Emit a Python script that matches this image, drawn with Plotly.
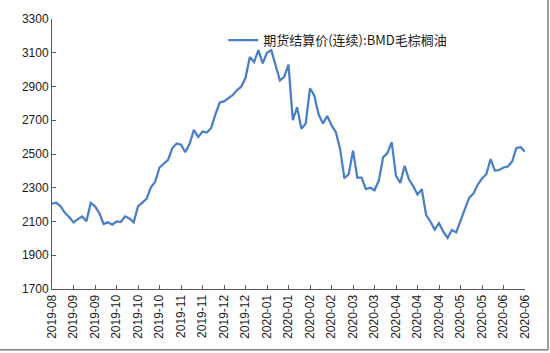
import plotly.graph_objects as go

series_name = "期货结算价(连续):BMD毛棕榈油"

tick_labels = [
    "2019-08", "2019-09", "2019-09", "2019-10", "2019-10", "2019-10",
    "2019-11", "2019-11", "2019-12", "2019-12", "2020-01", "2020-01",
    "2020-02", "2020-02", "2020-03", "2020-03", "2020-04", "2020-04",
    "2020-04", "2020-05", "2020-05", "2020-06", "2020-06",
]

points_per_label = 5

prices = [
    2206, 2211, 2190, 2151, 2127, 2095, 2114, 2130, 2102, 2210,
    2190, 2150, 2085, 2095, 2081, 2100, 2097, 2130, 2118, 2095,
    2190, 2211, 2235, 2302, 2335, 2420, 2445, 2466, 2535, 2562,
    2555, 2510, 2560, 2643, 2600, 2633, 2627, 2653, 2735, 2805,
    2812, 2832, 2848, 2878, 2899, 2950, 3075, 3045, 3115, 3037,
    3100, 3115, 3027, 2935, 2957, 3030, 2700, 2777, 2650, 2680,
    2890, 2845, 2735, 2680, 2725, 2670, 2630, 2530, 2356, 2380,
    2520, 2360, 2360, 2292, 2300, 2285, 2342, 2480, 2505, 2570,
    2370, 2329, 2430, 2350, 2310, 2260, 2291, 2140, 2100, 2052,
    2090, 2040, 2003, 2050, 2035, 2100, 2175, 2240, 2265, 2317,
    2355, 2380, 2470, 2402, 2405, 2420, 2426, 2455, 2535, 2540,
    2514,
]

y_min, y_max, y_step = 1700, 3300, 200

x_idx = list(range(len(prices)))
tick_pos = [i * points_per_label for i in range(len(tick_labels))]

axis_color = "#595959"
tick_font = dict(family="Liberation Sans, Arial, sans-serif", size=12, color="#1a1a1a")

fig = go.Figure()
fig.add_trace(go.Scatter(
    x=x_idx, y=prices, mode="lines", name=series_name,
    line=dict(color="#4A7EC6", width=2.25),
    showlegend=True,
))

fig.update_layout(
    width=550, height=353,
    margin=dict(l=52, r=25, t=19, b=64, autoexpand=False),
    paper_bgcolor="white", plot_bgcolor="white",
    showlegend=True,
    legend=dict(
        x=0.362, y=0.922, xanchor="left", yanchor="middle",
        orientation="h", bgcolor="rgba(0,0,0,0)",
        font=dict(family="Noto Sans CJK SC, sans-serif", size=13, color="#1a1a1a"),
        itemwidth=30,
    ),
    xaxis=dict(
        range=[0, len(prices) - 1], autorange=False,
        tickmode="array", tickvals=tick_pos, ticktext=tick_labels,
        tickangle=-90, tickfont=tick_font,
        ticks="inside", ticklen=4, tickcolor=axis_color, tickwidth=1,
        showline=True, linecolor=axis_color, linewidth=1,
        showgrid=False, zeroline=False,
    ),
    yaxis=dict(
        range=[y_min, y_max], autorange=False,
        tickmode="linear", tick0=y_min, dtick=y_step,
        tickfont=tick_font,
        ticks="inside", ticklen=4, tickcolor=axis_color, tickwidth=1,
        showline=True, linecolor=axis_color, linewidth=1,
        showgrid=False, zeroline=False,
    ),
    shapes=[
        dict(type="line", xref="paper", yref="paper",
             x0=1.0 + 23 / 473, x1=1.0 + 23 / 473, y0=-61 / 270.5, y1=1.0 + 19 / 270.5,
             line=dict(color="#404040", width=1)),
        dict(type="line", xref="paper", yref="paper",
             x0=-52 / 473, x1=1.0 + 23 / 473, y0=-61 / 270.5, y1=-61 / 270.5,
             line=dict(color="#404040", width=1)),
    ],
)

fig.write_html("out.html")
